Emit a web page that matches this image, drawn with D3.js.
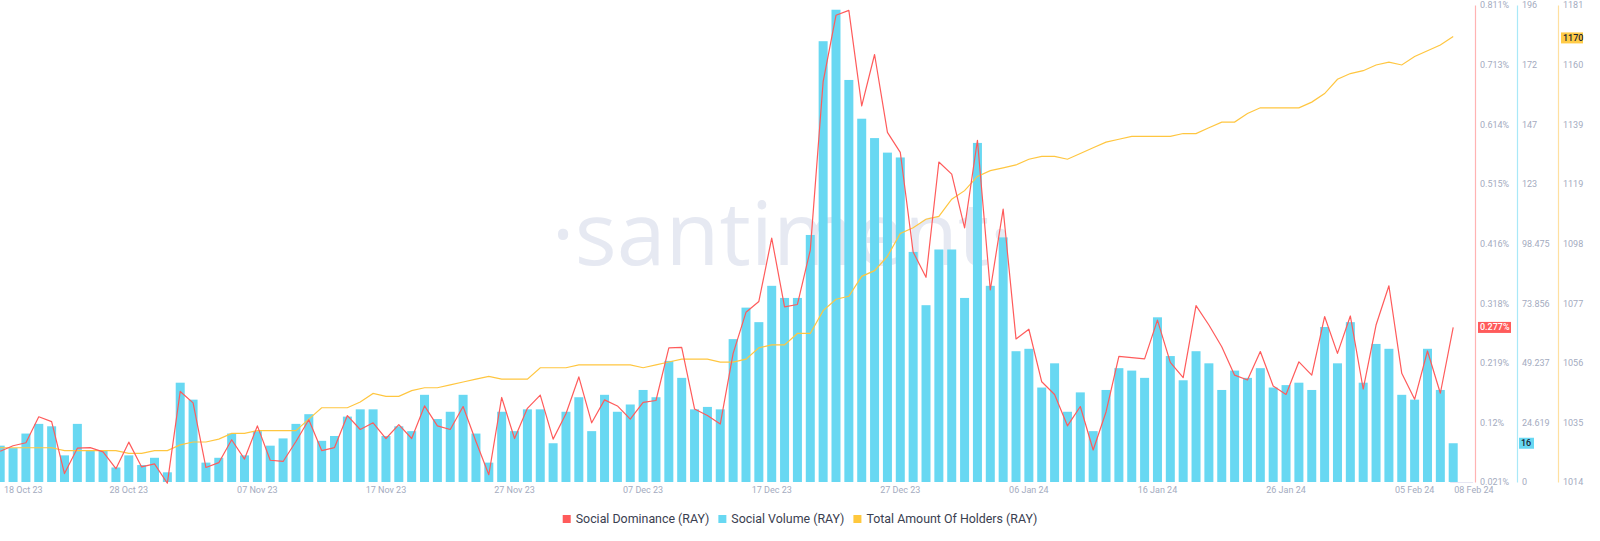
<!DOCTYPE html>
<html>
<head>
<meta charset="utf-8">
<script src="https://cdn.jsdelivr.net/npm/d3@7"></script>
<style>
  html, body { margin: 0; padding: 0; background: #ffffff; }
  svg { display: block; font-family: Roboto, "Open Sans", sans-serif; }
</style>
</head>
<body>
<svg id="chart" width="1600" height="541"></svg>
<script>
// ---------------- DATA ----------------
const startDate = new Date(2023, 9, 18);
const endDate = new Date(2024, 1, 8);
const dates = d3.timeDay.range(startDate, d3.timeDay.offset(endDate, 1));

const socialVolume = [
  15, 14, 20, 24, 23, 11, 24, 13, 13, 6,
  11, 7, 10, 4, 41, 34, 8, 10, 20, 11,
  21, 15, 18, 24, 28, 17, 19, 27, 30, 30,
  19, 23, 21, 36, 26, 29, 36, 20, 8, 29,
  21, 30, 30, 16, 29, 35, 21, 36, 29, 32,
  38, 35, 50, 43, 30, 31, 30, 59, 72, 66,
  81, 76, 76, 102, 182, 195, 166, 150, 142, 136,
  134, 95, 73, 96, 96, 76, 140, 81, 101, 54,
  55, 39, 49, 29, 37, 21, 38, 47, 46, 43,
  68, 52, 42, 54, 49, 38, 46, 43, 47, 39,
  40, 41, 38, 64, 49, 66, 41, 57, 55, 36,
  34, 55, 38, 16
];

const socialDominance = [
  0.072, 0.081, 0.086, 0.129, 0.121, 0.035, 0.077, 0.078, 0.071, 0.043,
  0.087, 0.046, 0.051, 0.019, 0.171, 0.152, 0.045, 0.053, 0.091, 0.059,
  0.114, 0.057, 0.055, 0.088, 0.124, 0.073, 0.078, 0.131, 0.108, 0.119,
  0.093, 0.116, 0.093, 0.147, 0.114, 0.108, 0.146, 0.088, 0.033, 0.161,
  0.093, 0.143, 0.165, 0.092, 0.134, 0.195, 0.119, 0.157, 0.147, 0.125,
  0.153, 0.156, 0.243, 0.244, 0.142, 0.131, 0.117, 0.234, 0.302, 0.320,
  0.425, 0.311, 0.315, 0.405, 0.684, 0.794, 0.802, 0.644, 0.729, 0.600,
  0.567, 0.402, 0.360, 0.551, 0.531, 0.442, 0.587, 0.339, 0.473, 0.258,
  0.274, 0.187, 0.166, 0.114, 0.146, 0.074, 0.137, 0.229, 0.227, 0.225,
  0.289, 0.219, 0.194, 0.313, 0.281, 0.245, 0.198, 0.190, 0.237, 0.180,
  0.166, 0.220, 0.198, 0.295, 0.234, 0.296, 0.175, 0.281, 0.346, 0.201,
  0.158, 0.238, 0.168, 0.277
];

const holders = [
  1026, 1026, 1026, 1026, 1026, 1025, 1025, 1025, 1025, 1025,
  1024, 1024, 1025, 1025, 1027, 1028, 1028, 1029, 1031, 1031,
  1032, 1032, 1032, 1032, 1036, 1040, 1040, 1040, 1042, 1045,
  1044, 1044, 1046, 1047, 1047, 1048, 1049, 1050, 1051, 1050,
  1050, 1050, 1054, 1054, 1054, 1055, 1055, 1055, 1055, 1055,
  1054, 1055, 1056, 1057, 1057, 1057, 1056, 1056, 1057, 1061,
  1062, 1062, 1066, 1066, 1074, 1078, 1079, 1086, 1088, 1093,
  1101, 1103, 1106, 1107, 1113, 1116, 1121, 1123, 1124, 1125,
  1127, 1128, 1128, 1127, 1129, 1131, 1133, 1134, 1135, 1135,
  1135, 1135, 1136, 1136, 1138, 1140, 1140, 1143, 1145, 1145,
  1145, 1145, 1147, 1150, 1155, 1157, 1158, 1160, 1161, 1160,
  1163, 1165, 1167, 1170
];

const xTickDates = [
  new Date(2023, 9, 18), new Date(2023, 9, 28), new Date(2023, 10, 7), new Date(2023, 10, 17),
  new Date(2023, 10, 27), new Date(2023, 11, 7), new Date(2023, 11, 17), new Date(2023, 11, 27),
  new Date(2024, 0, 6), new Date(2024, 0, 16), new Date(2024, 0, 26), new Date(2024, 1, 5)
];
const xTickLabels = ["18 Oct 23", "28 Oct 23", "07 Nov 23", "17 Nov 23", "27 Nov 23", "07 Dec 23",
  "17 Dec 23", "27 Dec 23", "06 Jan 24", "16 Jan 24", "26 Jan 24", "05 Feb 24"];
const lastDateLabel = "08 Feb 24";

const domTickValues = [0.021, 0.11975, 0.2185, 0.31725, 0.416, 0.51475, 0.6135, 0.71225, 0.811];
const domTickLabels = ["0.021%", "0.12%", "0.219%", "0.318%", "0.416%", "0.515%", "0.614%", "0.713%", "0.811%"];
const volTickValues = [0, 24.619, 49.237, 73.856, 98.475, 123.094, 147.713, 172.331, 196.95];
const volTickLabels = ["0", "24.619", "49.237", "73.856", "98.475", "123", "147", "172", "196"];
const holdTickValues = [1014, 1034.875, 1055.75, 1076.625, 1097.5, 1118.375, 1139.25, 1160.125, 1181];
const holdTickLabels = ["1014", "1035", "1056", "1077", "1098", "1119", "1139", "1160", "1181"];

const seriesNames = ["Social Dominance (RAY)", "Social Volume (RAY)", "Total Amount Of Holders (RAY)"];

// ---------------- STYLE ----------------
const C_RED = "#ff5b5b", C_BLUE = "#68d8f2", C_ORANGE = "#ffc640";
const TICK_COLOR = "#a4abc0";
const plotTop = 5, plotBottom = 482;

const svg = d3.select("#chart");

const x = d3.scaleTime().domain([startDate, endDate]).range([0.2, 1453.2]);
const yDom = d3.scaleLinear().domain([0.021, 0.811]).range([plotBottom, plotTop]);
const yVol = d3.scaleLinear().domain([0, 196.95]).range([plotBottom, plotTop]);
const yHold = d3.scaleLinear().domain([1014, 1181]).range([plotBottom, plotTop]);

// watermark
svg.append("text")
  .attr("x", 782).attr("y", 265)
  .attr("text-anchor", "middle")
  .attr("font-family", "'Open Sans', sans-serif")
  .attr("font-size", 88)
  .attr("fill", "#e6e9f2")
  .text("·santiment·");

// bars
svg.append("g").selectAll("rect")
  .data(socialVolume)
  .join("rect")
  .attr("x", (d, i) => x(dates[i]) - 4.5)
  .attr("width", 9)
  .attr("y", d => yVol(d))
  .attr("height", d => plotBottom - yVol(d))
  .attr("fill", C_BLUE);

// holders line
svg.append("path")
  .datum(holders)
  .attr("fill", "none")
  .attr("stroke", C_ORANGE)
  .attr("stroke-width", 1.2)
  .attr("d", d3.line().x((d, i) => x(dates[i])).y(d => yHold(d)));

// dominance line
svg.append("path")
  .datum(socialDominance)
  .attr("fill", "none")
  .attr("stroke", C_RED)
  .attr("stroke-width", 1.2)
  .attr("stroke-linejoin", "round")
  .attr("d", d3.line().x((d, i) => x(dates[i])).y(d => yDom(d)));

// right axes
function rightAxis(scale, vals, labels, xPos, lineColor) {
  const g = svg.append("g").attr("transform", `translate(${xPos},0)`)
    .call(d3.axisRight(scale).tickValues(vals).tickFormat((d, i) => labels[i]).tickSize(0).tickPadding(5));
  g.select(".domain").attr("stroke", lineColor).attr("stroke-width", 1.2);
  g.selectAll("text").attr("fill", TICK_COLOR).attr("font-size", 9).attr("font-family", "Roboto, sans-serif");
  return g;
}
rightAxis(yDom, domTickValues, domTickLabels, 1475, "#ffb3b3");
rightAxis(yVol, volTickValues, volTickLabels, 1517, "#a9e9f8");
rightAxis(yHold, holdTickValues, holdTickLabels, 1558, "#ffe0a0");

// last-value badges
function badge(xPos, yPos, w, fill, txt, txtColor) {
  svg.append("rect").attr("x", xPos).attr("y", yPos - 5.5).attr("width", w).attr("height", 11).attr("fill", fill);
  svg.append("text").attr("x", xPos + 2).attr("y", yPos).attr("dy", "0.34em")
    .attr("font-size", 9).attr("font-weight", 500).attr("fill", txtColor).text(txt);
}
const last = socialVolume.length - 1;
badge(1478, yDom(socialDominance[last]), 33, C_RED, socialDominance[last] + "%", "#ffffff");
badge(1519, yVol(socialVolume[last]), 15, C_BLUE, String(socialVolume[last]), "#1b2431");
badge(1561, yHold(holders[last]) + 1.5, 22, "#ffcb47", String(holders[last]), "#1b2431");

// x-axis labels
const xg = svg.append("g");
xTickDates.forEach((d, i) => {
  const t = xg.append("text")
    .attr("y", 490).attr("dy", "0.34em")
    .attr("font-size", 9).attr("fill", TICK_COLOR)
    .text(xTickLabels[i]);
  const px = x(d);
  const w = t.node().getComputedTextLength();
  t.attr("x", Math.max(4, px - w / 2));
});
svg.append("line").attr("x1", x(endDate) - 3).attr("x2", x(endDate) + 20)
  .attr("y1", plotBottom + 0.5).attr("y2", plotBottom + 0.5).attr("stroke", "#e6e6f3").attr("stroke-width", 1);
xg.append("text")
  .attr("x", x(endDate) + 1).attr("y", 490).attr("dy", "0.34em")
  .attr("font-size", 9).attr("fill", TICK_COLOR)
  .text(lastDateLabel);

// legend
const legendColors = [C_RED, C_BLUE, "#ffc83d"];
const lg = svg.append("g");
let lx = 0;
seriesNames.forEach((name, i) => {
  lg.append("rect").attr("x", lx).attr("y", 515).attr("width", 8).attr("height", 8).attr("fill", legendColors[i]);
  const t = lg.append("text").attr("x", lx + 13).attr("y", 519).attr("dy", "0.35em")
    .attr("font-size", 12.4).attr("fill", "#3a4050").text(name);
  lx += 13 + t.node().getComputedTextLength() + 9;
});
const lw = lx - 9;
lg.attr("transform", `translate(${800 - lw / 2},0)`);
</script>
</body>
</html>
